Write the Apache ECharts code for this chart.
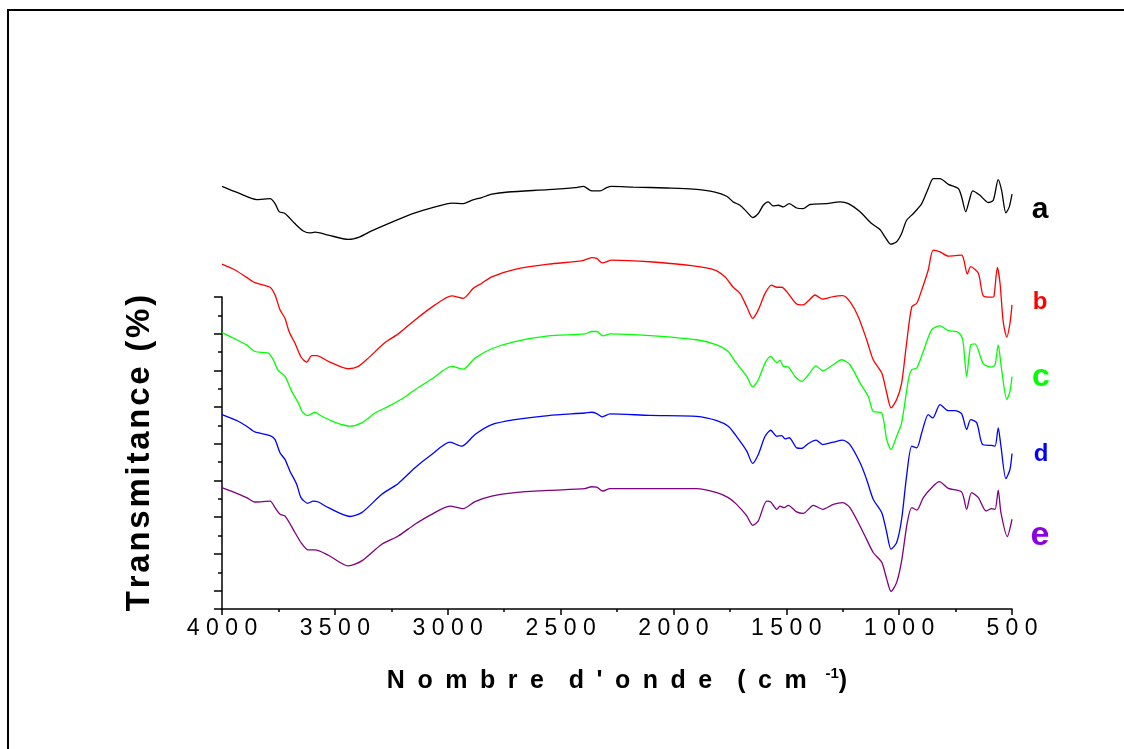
<!DOCTYPE html>
<html>
<head>
<meta charset="utf-8">
<script src="https://cdn.jsdelivr.net/npm/echarts@6/dist/echarts.min.js"></script>
<style>
html,body{margin:0;padding:0;background:#fff;}
#chart{width:1124px;height:749px;}
</style>
</head>
<body>
<div id="chart"></div>
<script>
// Wavenumbers (cm-1) and transmittance (arbitrary, offset) for each spectrum
const wnA = [4000,3928,3846,3787,3765,3746,3721,3677,3640,3610,3588,3529,3440,3389,3337,3263,3145,3056,2982,2931,2894,2849,2805,2732,2554,2436,2399,2362,2325,2296,2273,2178,2030,1912,1816,1764,1735,1705,1675,1649,1624,1602,1580,1558,1535,1513,1487,1454,1425,1395,1321,1262,1225,1173,1122,1085,1063,1037,1011,989,967,937,900,871,849,819,782,738,723,705,689,674,642,605,583,561,546,527,512,500];
const tA  = [23.03,22.67,22.31,22.36,22.09,21.64,21.55,21.00,20.60,20.49,20.53,20.37,20.14,20.28,20.60,21.00,21.58,21.91,22.12,22.09,22.27,22.42,22.60,22.72,22.85,22.96,23.03,22.78,22.78,22.96,23.03,22.99,22.94,22.88,22.72,22.49,22.18,22.00,21.64,21.33,21.55,22.00,22.18,21.96,22.00,21.91,22.09,21.85,21.82,22.04,22.09,22.18,22.09,21.64,21.00,20.68,20.28,19.88,20.01,20.46,21.18,21.55,22.09,22.91,23.45,23.45,23.14,22.91,22.45,21.64,22.27,22.78,22.54,22.15,22.27,23.39,22.81,21.58,21.91,22.60];

const wnB = [4000,3942,3891,3854,3787,3765,3743,3721,3703,3677,3650,3625,3603,3580,3529,3440,3396,3352,3278,3219,3145,3056,2982,2931,2887,2849,2805,2702,2554,2406,2362,2340,2315,2273,2104,1912,1816,1772,1735,1705,1675,1649,1624,1594,1565,1542,1520,1498,1454,1425,1395,1373,1339,1292,1250,1218,1181,1144,1115,1077,1055,1036,1011,989,967,944,922,900,871,849,819,782,723,713,698,683,649,627,590,580,565,553,539,523,509,500];
const tB  = [18.79,18.47,18.07,17.78,17.53,17.11,16.30,15.84,15.12,14.49,13.73,13.45,13.80,13.81,13.49,13.09,13.22,13.67,14.52,14.99,15.75,16.57,17.06,16.93,17.47,17.75,18.10,18.51,18.79,18.97,19.14,19.10,18.86,19.01,18.92,18.70,18.47,18.10,17.53,17.20,16.47,15.84,16.30,17.20,17.65,17.53,17.53,17.29,16.62,16.57,16.88,17.11,16.88,17.02,17.07,16.75,15.93,14.67,13.58,12.86,11.77,10.96,11.41,12.31,14.49,16.47,16.66,17.38,18.47,19.55,19.46,19.23,19.28,19.01,18.25,18.65,18.29,17.06,16.99,17.02,18.61,17.75,15.66,14.81,15.57,16.57];

const wnC = [4000,3935,3891,3854,3795,3773,3751,3721,3691,3662,3644,3620,3588,3558,3499,3433,3381,3322,3263,3204,3145,3071,2982,2931,2879,2805,2702,2554,2392,2362,2340,2311,2281,2104,1897,1808,1757,1727,1675,1649,1624,1594,1569,1542,1528,1513,1491,1461,1432,1402,1368,1339,1292,1255,1218,1173,1137,1115,1077,1055,1036,1011,989,959,944,922,893,856,819,782,738,718,701,683,664,627,590,575,561,546,523,509,500];
const tC  = [15.06,14.67,14.39,14.03,13.94,13.58,13.00,12.67,11.86,11.23,10.74,10.54,10.72,10.50,10.17,9.96,10.14,10.68,11.04,11.44,11.95,12.53,13.22,13.07,13.67,14.18,14.57,14.88,14.99,15.12,15.12,14.88,14.99,14.90,14.67,14.39,14.03,13.49,12.67,12.10,12.49,13.40,13.76,13.43,13.54,13.22,13.18,12.67,12.40,12.76,13.25,12.98,13.31,13.58,13.31,12.31,11.59,10.77,10.68,9.23,8.69,9.41,10.14,12.49,13.04,13.13,14.03,15.21,15.43,15.17,15.08,14.67,12.67,14.39,14.45,13.36,13.18,13.31,14.39,13.04,11.41,11.86,12.67];

const wnD = [4000,3928,3891,3854,3787,3765,3743,3721,3699,3669,3650,3620,3596,3573,3529,3433,3381,3292,3219,3145,3071,2990,2938,2879,2805,2702,2554,2392,2362,2340,2315,2281,2104,1897,1808,1757,1727,1675,1649,1624,1594,1569,1542,1520,1506,1487,1454,1432,1402,1368,1339,1292,1250,1218,1173,1144,1115,1077,1055,1036,1011,989,967,944,922,900,871,851,819,782,753,723,701,683,656,630,590,575,561,549,527,509,500];
const tD  = [10.59,10.23,9.96,9.65,9.45,9.23,8.51,8.15,7.51,6.79,6.07,5.76,5.88,5.83,5.52,5.04,5.25,6.25,6.84,7.70,8.42,9.09,8.87,9.51,10.05,10.32,10.54,10.68,10.72,10.65,10.47,10.63,10.55,10.50,10.27,9.96,9.51,8.60,7.93,8.42,9.41,9.74,9.41,9.45,9.27,9.33,8.78,8.75,9.02,9.20,8.96,9.09,9.20,8.96,7.97,7.06,5.98,5.25,4.17,3.26,3.62,4.89,7.24,8.87,8.78,9.60,10.59,10.41,11.14,10.81,10.81,10.63,9.78,10.32,10.14,8.96,8.91,8.87,9.87,8.87,7.10,7.60,8.47];

const wnE = [4000,3935,3891,3854,3787,3765,3743,3721,3677,3650,3618,3588,3529,3440,3381,3292,3219,3145,3071,2990,2931,2879,2805,2702,2554,2392,2362,2340,2313,2281,2104,1897,1808,1757,1720,1675,1649,1624,1587,1569,1542,1528,1510,1491,1454,1425,1380,1339,1292,1250,1218,1159,1115,1077,1055,1036,1011,989,964,944,922,893,856,822,782,723,701,679,649,615,590,575,561,549,521,500];
const tE  = [6.61,6.30,6.07,5.83,5.88,5.52,5.16,5.07,4.17,3.62,3.22,3.22,2.93,2.35,2.62,3.53,3.98,4.62,5.16,5.61,5.47,5.85,6.15,6.34,6.46,6.56,6.66,6.64,6.43,6.56,6.56,6.56,6.34,6.07,5.70,5.07,4.56,4.80,5.88,5.83,5.43,5.61,5.52,5.65,5.29,5.21,5.65,5.43,5.70,5.80,5.52,4.17,3.08,2.54,1.63,0.96,1.45,2.62,4.71,5.52,5.39,6.07,6.61,6.94,6.57,6.37,5.43,6.34,6.07,5.34,5.47,5.43,6.48,5.25,3.95,4.89];

const seriesNames = ['a','b','c','d','e'];
const seriesColors = ['#000000','#ff0000','#00ff00','#0000ff','#800080'];
const labelColors = ['#000000','#ff0000','#00ff00','#0000ff','#8a00e6'];
const xTicks = [4000,3500,3000,2500,2000,1500,1000,500];

const FONT = "'Liberation Sans', Arial, sans-serif";
function zip(xs, ys){ return xs.map((x,i)=>[x, ys[i]]); }
const allX = [wnA, wnB, wnC, wnD, wnE];
const allY = [tA, tB, tC, tD, tE];

const E = '\u2002';
const xName = '{m|' + ['N','o','m','b','r','e'].join(E) + E+E + ['d',"'",'o','n','d','e'].join(E) + E+E + ['(','c','m'].join(E) + E+'\u2005' + '}{s|-1}{m|)}';

const chart = echarts.init(document.getElementById('chart'), null, {renderer:'canvas'});
const option = {
  backgroundColor: '#ffffff',
  animation: false,
  grid: {left: 222, right: 112, top: 297, bottom: 140, containLabel: false},
  xAxis: {
    type: 'value', min: 500, max: 4000, interval: 500, inverse: true,
    axisLine: {show: true, onZero: false, lineStyle: {color:'#000', width: 1.5}},
    axisTick: {show: true, length: 6, lineStyle: {color:'#000', width: 1.5}},
    minorTick: {show: true, splitNumber: 2, length: 3, lineStyle: {color:'#000', width: 1.5}},
    splitLine: {show: false},
    axisLabel: {
      color: '#000', fontFamily: FONT, fontSize: 23, margin: 8,
      formatter: v => (xTicks.indexOf(v) >= 0 ? String(v).split('').join(' ') : '')
    },
    name: xName,
    nameLocation: 'middle', nameGap: 57,
    nameTextStyle: {
      fontFamily: FONT, fontSize: 25, fontWeight: 'bold', color: '#000', lineHeight: 30,
      rich: {
        m: {fontFamily: FONT, fontSize: 25, fontWeight: 'bold', color: '#000', lineHeight: 30},
        s: {fontFamily: FONT, fontSize: 15, fontWeight: 'bold', color: '#000', lineHeight: 16, verticalAlign: 'top'}
      }
    }
  },
  yAxis: [
    {
      type: 'value', min: 0, max: 17, interval: 1, position: 'left',
      axisLine: {show: true, lineStyle: {color:'#000', width: 1.5}},
      axisTick: {show: true, length: 4, lineStyle: {color:'#000', width: 1.5}},
      axisLabel: {show: false}, splitLine: {show: false},
      name: 'T\u200Ar\u200Aa\u200An\u200As\u200Am\u200Ai\u200At\u200Aa\u200An\u200Ac\u200Ae\u200A \u200A(\u200A%\u200A)',
      nameLocation: 'middle', nameGap: 66, nameRotate: 90,
      nameTextStyle: {fontFamily: FONT, fontSize: 33, fontWeight: 'bold', color: '#000'}
    },
    {
      type: 'value', min: 0, max: 17, interval: 2, inverse: true, position: 'left',
      axisLine: {show: false},
      axisTick: {show: true, length: 8, lineStyle: {color:'#000', width: 1.5}},
      axisLabel: {show: false}, splitLine: {show: false}
    }
  ],
  series: seriesNames.map((n, i) => ({
    name: n, type: 'line', yAxisIndex: 0, data: zip(allX[i], allY[i]),
    showSymbol: false, smooth: 0.25, clip: false,
    lineStyle: {color: seriesColors[i], width: 1.3}
  })),
  graphic: [
    {type: 'rect', shape: {x: 8, y: 10, width: 1300, height: 1000}, style: {fill: 'none', stroke: '#000', lineWidth: 2}, silent: true},
    {type: 'text', x: 1040, y: 210, style: {text: seriesNames[0], font: "bold 30px " + FONT, fill: labelColors[0], align: 'center', verticalAlign: 'middle'}},
    {type: 'text', x: 1040, y: 302, style: {text: seriesNames[1], font: "bold 24px " + FONT, fill: labelColors[1], align: 'center', verticalAlign: 'middle'}},
    {type: 'text', x: 1041, y: 377, style: {text: seriesNames[2], font: "bold 32px " + FONT, fill: labelColors[2], align: 'center', verticalAlign: 'middle'}},
    {type: 'text', x: 1041, y: 454, style: {text: seriesNames[3], font: "bold 24px " + FONT, fill: labelColors[3], align: 'center', verticalAlign: 'middle'}},
    {type: 'text', x: 1040, y: 536, style: {text: seriesNames[4], font: "bold 34px " + FONT, fill: labelColors[4], align: 'center', verticalAlign: 'middle'}}
  ]
};
chart.setOption(option);
</script>
</body>
</html>
